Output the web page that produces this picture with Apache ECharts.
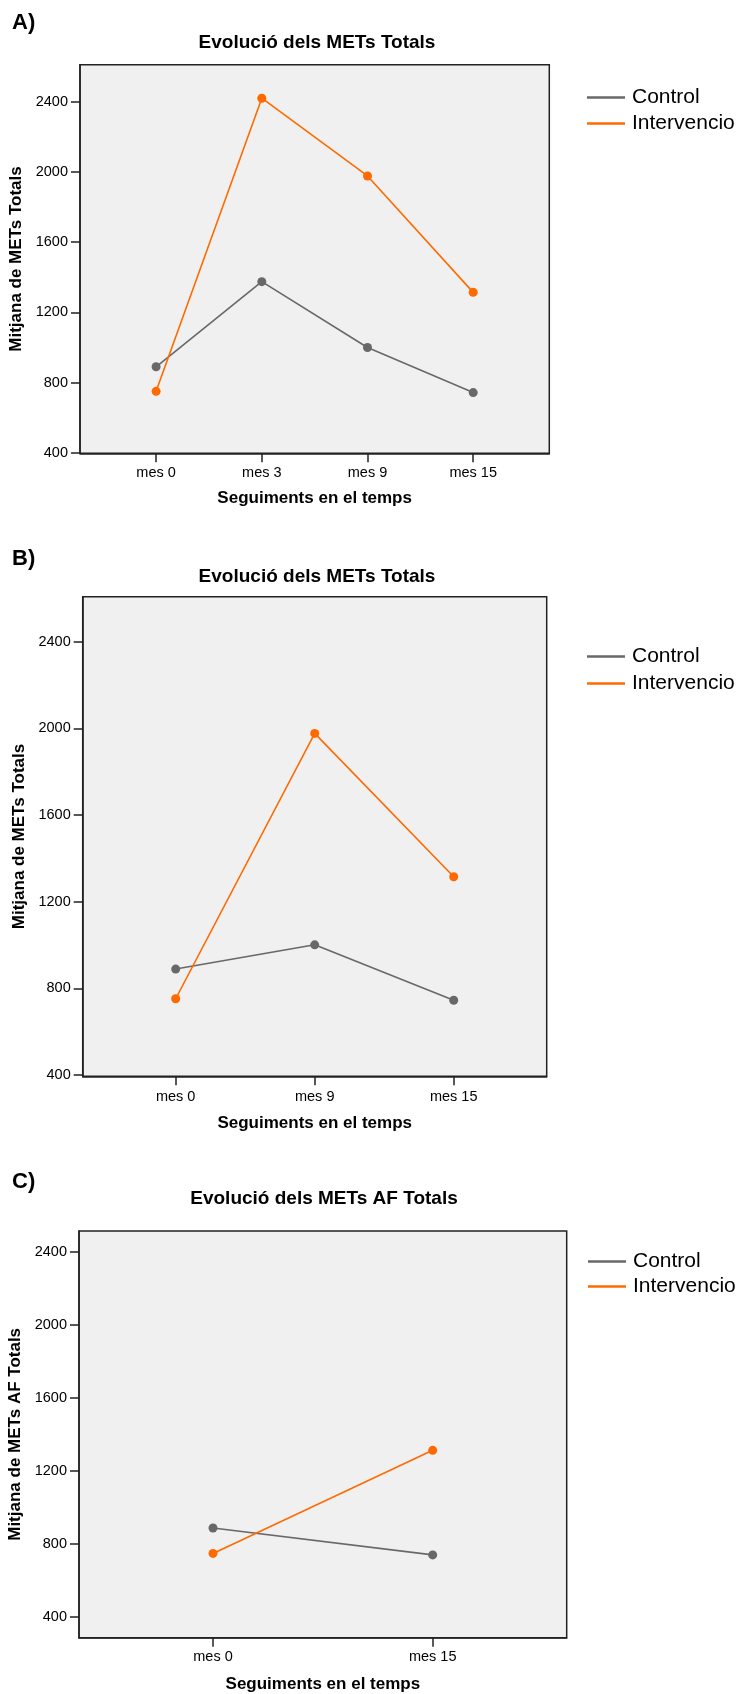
<!DOCTYPE html>
<html>
<head>
<meta charset="utf-8">
<script src="https://cdn.jsdelivr.net/npm/echarts@6/dist/echarts.min.js"></script>
<style>
html, body { margin: 0; padding: 0; background: #fff; }
#chart { width: 739px; height: 1694px; }
</style>
</head>
<body>
<div id="chart"></div>
<script>
// A) all follow-ups
const catsA = ['mes 0', 'mes 3', 'mes 9', 'mes 15']
const controlA = [890, 1375, 1000, 743]
const intervA = [750, 2420, 1977, 1314]
// B)
const catsB = ['mes 0', 'mes 9', 'mes 15']
const controlB = [889, 1001, 745]
const intervB = [752, 1977, 1315]
// C)
const catsC = ['mes 0', 'mes 15']
const controlC = [888, 741]
const intervC = [749, 1313]

const yTicks = [400, 800, 1200, 1600, 2000, 2400]
const seriesNames = ['Control', 'Intervencio']
const colors = ['#686868', '#ff6a00']

const FONT = '"Liberation Sans", Arial, sans-serif'
const AXIS = '#222'

const panels = [
  {
    tag: 'A)', tagY: 24, title: 'Evolució dels METs Totals', titleX: 317, titleY: 43,
    yName: 'Mitjana de METs Totals', cats: catsA, control: controlA, interv: intervA,
    box: {left: 80, top: 64.7, width: 469.3, height: 388.6}, yMin: 397, yMax: 2611, xPad: 0.72,
    yNameGap: 52, xNameGap: 37, labelMargin: 12,
    legendLeft: 582, legendTop: 82, legendGap: 5
  },
  {
    tag: 'B)', tagY: 560, title: 'Evolució dels METs Totals', titleX: 317, titleY: 577,
    yName: 'Mitjana de METs Totals', cats: catsB, control: controlB, interv: intervB,
    box: {left: 82.7, top: 596.7, width: 464, height: 479.6}, yMin: 394, yMax: 2608, xPad: 0.669,
    yNameGap: 49, xNameGap: 39, labelMargin: 13,
    legendLeft: 582, legendTop: 641, legendGap: 6
  },
  {
    tag: 'C)', tagY: 1183, title: 'Evolució dels METs AF Totals', titleX: 324, titleY: 1199,
    yName: 'Mitjana de METs AF Totals', cats: catsC, control: controlC, interv: intervC,
    box: {left: 79, top: 1231, width: 487.7, height: 406.7}, yMin: 288, yMax: 2513, xPad: 0.61,
    yNameGap: 54, xNameGap: 38, labelMargin: 12,
    legendLeft: 583, legendTop: 1246, legendGap: 4
  }
]

const grid = [], xAxis = [], yAxis = [], series = [], legend = [], graphic = []

panels.forEach((p, i) => {
  const idx = p.cats.map((c, j) => j)
  grid.push(Object.assign({
    show: true, backgroundColor: '#f0f0f0', borderColor: AXIS, borderWidth: 1.5,
    containLabel: false, outerBoundsMode: 'none'
  }, p.box))
  xAxis.push({
    gridIndex: i, type: 'value', min: -p.xPad, max: p.cats.length - 1 + p.xPad,
    name: 'Seguiments en el temps', nameLocation: 'middle', nameGap: p.xNameGap,
    nameTextStyle: {fontWeight: 'bold', fontSize: 17, color: '#000', fontFamily: FONT},
    axisLine: {show: true, onZero: false, lineStyle: {color: AXIS, width: 1.5}},
    axisTick: {show: true, length: 9, customValues: idx, lineStyle: {color: AXIS, width: 1.5}},
    axisLabel: {customValues: idx, formatter: v => p.cats[v], fontSize: 14.5, color: '#000', margin: p.labelMargin, fontFamily: FONT},
    splitLine: {show: false}
  })
  yAxis.push({
    gridIndex: i, type: 'value', min: p.yMin, max: p.yMax,
    name: p.yName, nameLocation: 'middle', nameGap: p.yNameGap,
    nameTextStyle: {fontWeight: 'bold', fontSize: 17, color: '#000', fontFamily: FONT},
    axisLine: {show: true, onZero: false, lineStyle: {color: AXIS, width: 1.5}},
    axisTick: {show: true, length: 9, customValues: yTicks, lineStyle: {color: AXIS, width: 1.5}},
    axisLabel: {customValues: yTicks, formatter: v => String(v), fontSize: 14.5, color: '#000', margin: 12, fontFamily: FONT},
    splitLine: {show: false}
  })
  const vals = [p.control, p.interv]
  vals.forEach((v, k) => {
    series.push({
      type: 'line', name: seriesNames[k], xAxisIndex: i, yAxisIndex: i,
      data: v.map((y, j) => [j, y]),
      symbol: 'circle', symbolSize: 9,
      lineStyle: {color: colors[k], width: 1.6},
      itemStyle: {color: colors[k]},
      z: 2 + k
    })
  })
  legend.push({
    left: p.legendLeft, top: p.legendTop, orient: 'vertical', itemGap: p.legendGap,
    itemWidth: 38, itemHeight: 2.5, icon: 'rect', selectedMode: false,
    data: seriesNames,
    textStyle: {fontSize: 21, color: '#000', lineHeight: 21, fontFamily: FONT, padding: [0, 0, 0, 2]}
  })
  graphic.push({
    type: 'text', left: 12, top: p.tagY - 12,
    style: {text: p.tag, font: 'bold 22px ' + FONT, fill: '#000'}
  })
  graphic.push({
    type: 'text', x: p.titleX, y: p.titleY,
    style: {
      text: p.title, font: 'bold 19px ' + FONT, fill: '#000',
      align: 'center', verticalAlign: 'middle', textAlign: 'center', textVerticalAlign: 'middle'
    }
  })
})

const chart = echarts.init(document.getElementById('chart'))
chart.setOption({
  animation: false,
  textStyle: {fontFamily: FONT},
  grid, xAxis, yAxis, series, legend, graphic
})
</script>
</body>
</html>
